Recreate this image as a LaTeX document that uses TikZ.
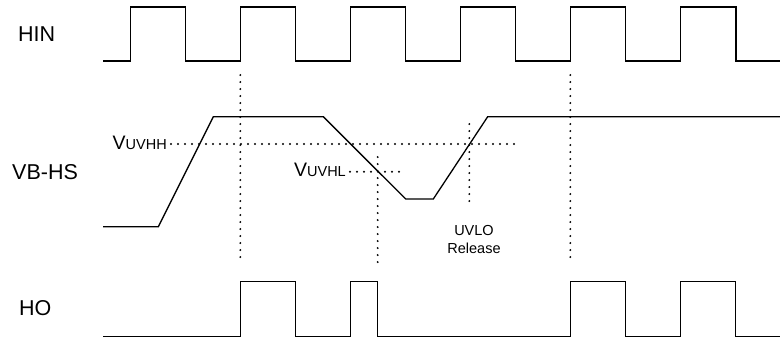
\documentclass[tikz,border=0pt]{standalone}
\usepackage{fontspec}
\setmainfont{Liberation Sans}
\tikzset{
  wave/.style={line width=1.3pt, line join=miter},
  guide/.style={line width=2.1pt, line cap=round, dash pattern=on 0pt off 7pt},
  siglabel/.style={inner sep=0pt, font=\fontsize{21.5}{24}\selectfont},
  thlabel/.style={inner sep=0pt, anchor=base east},
}
\newcommand{\vlevel}[1]{{\fontsize{19.5}{20}\selectfont V}{\fontsize{14.5}{15}\selectfont #1}}

\begin{document}
\begin{tikzpicture}[x=1pt, y=-1pt]
        \useasboundingbox (0,0) rectangle (780,341);
        % signal names
        \node[siglabel, anchor=west] (hin) at (18,34.5) {HIN};
        \node[siglabel, anchor=west] (vbhs) at (12,172) {VB-HS};
        \node[siglabel, anchor=west] (ho) at (19,308) {HO};
        % HIN
        \draw[wave] (103,61) foreach \t in {130.3,240.3,350.3,460.3,570.3,680.5} { -- (\t,61) -- (\t,7) -- ({\t+55.4},7) -- ({\t+55.4},61) } -- (780,61);
        % VB-HS
        \draw[wave] (103,226.7) -- (158.3,226.7) -- (213.3,116.7) -- (323.3,116.7) -- (405.7,199) -- (433.3,199) -- (487.7,116.7) -- (780,116.7);
        % HO
        \draw[wave] (103,336.7) -- (240.3,336.7) -- (240.3,281.7) -- (295.7,281.7) -- (295.7,336.7) -- (350.3,336.7) -- (350.3,281.7) -- (377.7,281.7) -- (377.7,336.7)
          -- (570.3,336.7) -- (570.3,281.7) -- (625.7,281.7) -- (625.7,336.7) -- (680.7,336.7) -- (680.7,281.7) -- (735.7,281.7) -- (735.7,336.7) -- (780,336.7);
        % thresholds
        \node[thlabel] (vuvhh) at (167,149) {\vlevel{UVHH}};
        \node[thlabel] (vuvhl) at (346,176.7) {\vlevel{UVHL}};
        \draw[guide] ([xshift=4pt]vuvhh.east |- 0,144) -- (515,144);
        \draw[guide] ([xshift=4pt]vuvhl.east |- 0,171.7) -- (400,171.7);
        % guides
        \draw[guide] (240.3,75) -- (240.3,264);
        \draw[guide] (377.7,157) -- (377.7,264);
        \draw[guide] (469.3,124) -- (469.3,202);
        \draw[guide] (570.3,75) -- (570.3,264);
        \node[inner sep=0pt, align=center, font=\fontsize{14.5}{18}\selectfont] (release) at (474,240) {UVLO\\Release};
    \end{tikzpicture}
\end{document}
